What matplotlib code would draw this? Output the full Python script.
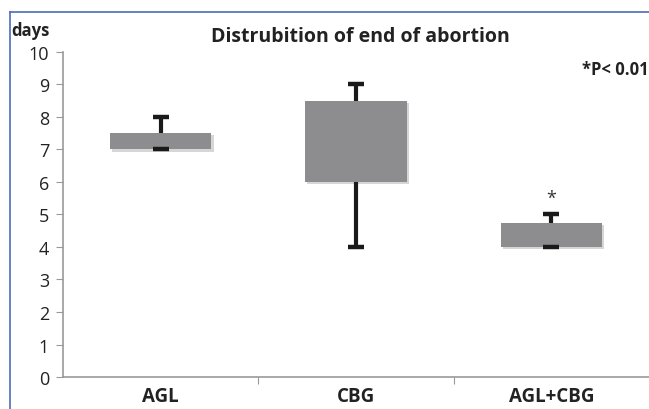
import matplotlib.pyplot as plt
import matplotlib.patheffects as pe
from matplotlib.lines import Line2D
import numpy as np

# box data (days)
groups = ["AGL", "CBG", "AGL+CBG"]
box_low = [7.0, 6.0, 4.0]
box_high = [7.5, 8.5, 4.75]
whisk_min = [7.0, 4.0, 4.0]
whisk_max = [8.0, 9.0, 5.0]
y_ticks = [0, 1, 2, 3, 4, 5, 6, 7, 8, 9, 10]

plt.rcParams['font.family'] = ['Open Sans', 'DejaVu Sans']

fig = plt.figure(figsize=(6.49, 4.10), dpi=100)
ax = fig.add_axes([0.097, 0.078, 0.903, 0.793])

x = np.arange(len(groups))
heights = np.array(box_high) - np.array(box_low)
bars = ax.bar(x, heights, bottom=box_low, width=0.52, color="#8d8d8f", zorder=2)
for b in bars:
    b.set_path_effects([pe.SimplePatchShadow(offset=(1.5, -1.5), shadow_rgbFace="#bbbbbb", alpha=0.6), pe.Normal()])

# whiskers: line from box edge to the extreme, cap only at the extreme
ax.vlines(x, box_high, whisk_max, color="#1a1a1a", lw=3, zorder=3)
ax.vlines(x, whisk_min, box_low, color="#1a1a1a", lw=3, zorder=3)
ax.plot(x, whisk_max, ls="none", marker="_", ms=12, mew=3.2, color="#1a1a1a", zorder=4)
ax.plot(x, whisk_min, ls="none", marker="_", ms=12, mew=3.2, color="#1a1a1a", zorder=4)

ax.text(2, 5.22, "*", ha="center", va="bottom", fontsize=13, color="#333333")

ax.set_xlim(-0.5, 2.5)
ax.set_ylim(0, 10)
ax.set_yticks(y_ticks)
ax.set_xticks([0.5, 1.5])
ax.set_xticklabels([])
ax.tick_params(axis="x", length=5, color="#999999")
ax.tick_params(axis="y", length=5, color="#999999", labelsize=13, labelcolor="#222222", pad=5)
for i, g in enumerate(groups):
    ax.text(i, -0.28, g, ha="center", va="top", fontsize=13.5, fontweight="bold", color="#222222")

for s in ["top", "right"]:
    ax.spines[s].set_visible(False)
for s in ["left", "bottom"]:
    ax.spines[s].set_color("#999999")
    ax.spines[s].set_linewidth(1.2)

fig.text(0.555, 0.91, "Distrubition of end of abortion", ha="center", va="center",
         fontsize=14, fontweight="bold", color="#222222")
fig.text(0.018, 0.925, "days", ha="left", va="center", fontsize=12, fontweight="bold", color="#222222")
fig.text(1.0, 0.83, "*P< 0.01", ha="right", va="center", fontsize=12, fontweight="bold", color="#222222")

# blue frame lines at top and left
fig.add_artist(Line2D([0.015, 1.0], [0.968, 0.968], color="#4a6db5", lw=1.2))
fig.add_artist(Line2D([0.015, 0.015], [0.0, 0.968], color="#4a6db5", lw=1.2))

fig.savefig("out.png", dpi=100)
